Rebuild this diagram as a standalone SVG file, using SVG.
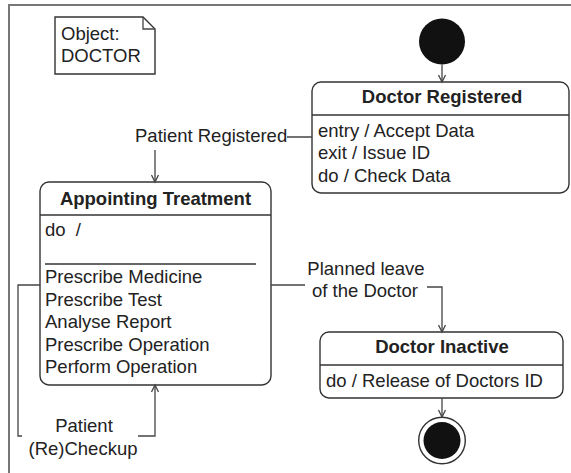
<svg xmlns="http://www.w3.org/2000/svg" width="571" height="473" viewBox="0 0 571 473">
<defs>
<style>
text{font-family:"Liberation Sans",Arial,sans-serif;font-size:18.5px;fill:#222}
.t{font-weight:bold}
.c{text-anchor:middle}
.box{fill:#fff;stroke:#333;stroke-width:1.4}
.sep{stroke:#333;stroke-width:1.4}
.con{fill:none;stroke:#444;stroke-width:1.3}
</style>
<marker id="arr" markerUnits="userSpaceOnUse" markerWidth="12" markerHeight="12" refX="10" refY="5" orient="auto">
<path d="M3,1.5 L10,5 L3,8.5" fill="none" stroke="#444" stroke-width="1.3"/>
</marker>
</defs>
<rect width="571" height="473" fill="#fff"/>
<path d="M9,473 V5 H571" fill="none" stroke="#777" stroke-width="2"/>

<g id="note">
<path d="M55,17 H143 L155,29 V74 H55 Z" class="box"/>
<path d="M143,17 V29 H155" class="con"/>
<text x="61" y="40">Object:</text>
<text x="61" y="62">DOCTOR</text>
</g>

<g id="initial">
<circle cx="442" cy="41.5" r="23" fill="#111"/>
</g>

<g id="doctor-registered">
<rect x="312" y="82" width="257" height="111" rx="9" class="box"/>
<line x1="312" y1="115" x2="569" y2="115" class="sep"/>
<text x="442" y="103" class="t c">Doctor Registered</text>
<text x="318" y="137">entry / Accept Data</text>
<text x="318" y="159">exit / Issue ID</text>
<text x="318" y="182">do / Check Data</text>
</g>

<g id="appointing-treatment">
<rect x="40" y="182" width="231" height="203" rx="9" class="box"/>
<line x1="40" y1="215" x2="271" y2="215" class="sep"/>
<text x="155.5" y="205" class="t c">Appointing Treatment</text>
<text x="45" y="236" word-spacing="5">do /</text>
<line x1="45" y1="264" x2="256" y2="264" class="sep"/>
<text x="45" y="283">Prescribe Medicine</text>
<text x="45" y="305.5">Prescribe Test</text>
<text x="45" y="328">Analyse Report</text>
<text x="45" y="350.5">Prescribe Operation</text>
<text x="45" y="373">Perform Operation</text>
</g>

<g id="doctor-inactive">
<rect x="320" y="332" width="243" height="66" rx="9" class="box"/>
<line x1="320" y1="365" x2="563" y2="365" class="sep"/>
<text x="442" y="353" class="t c">Doctor Inactive</text>
<text x="326" y="387">do / Release of Doctors ID</text>
</g>

<g id="final">
<circle cx="442" cy="440.5" r="23.3" fill="#fff" stroke="#333" stroke-width="1.4"/>
<circle cx="442" cy="440.5" r="18.5" fill="#111"/>
</g>

<g id="connectors">
<path d="M442,64.5 V82" class="con" marker-end="url(#arr)"/>
<path d="M312,137 H287 M155,150 V182" class="con" marker-end="url(#arr)"/>
<text x="135" y="142">Patient Registered</text>
<path d="M271,285 H305 M427,287 H442 V332" class="con" marker-end="url(#arr)"/>
<text x="366" y="275" class="c">Planned leave</text>
<text x="365" y="297" class="c">of the Doctor</text>
<path d="M40,285 H18 V436 H22 M138,436 H155 V385" class="con" marker-end="url(#arr)"/>
<text x="84" y="432" class="c">Patient</text>
<text x="83" y="455" class="c">(Re)Checkup</text>
<path d="M442,398 V417" class="con" marker-end="url(#arr)"/>
</g>
</svg>
